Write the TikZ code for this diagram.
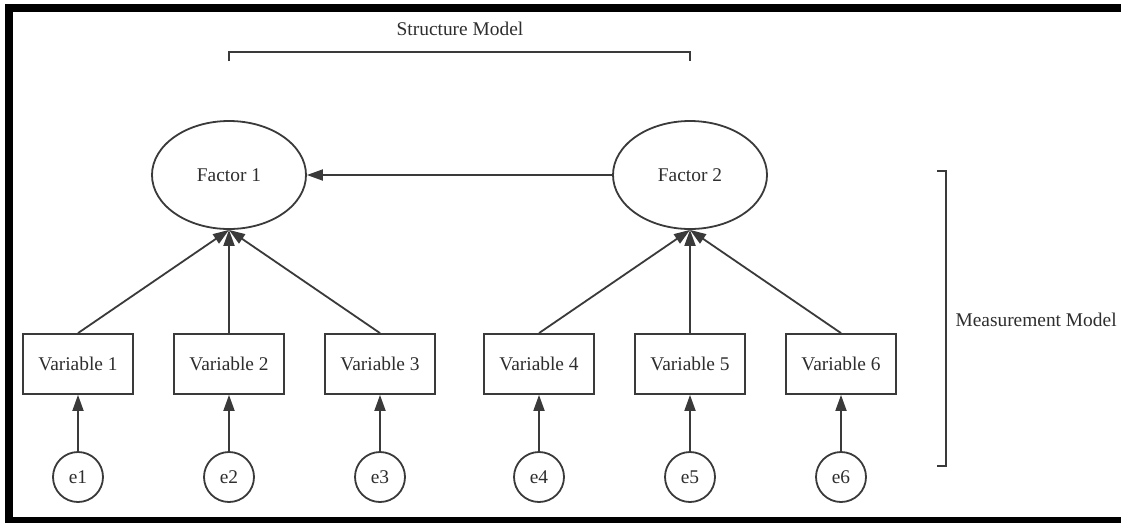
\documentclass[tikz,border=0pt]{standalone}
\usepackage{fontspec}
\setmainfont{Liberation Serif}
\usetikzlibrary{arrows.meta,shapes.geometric}
\definecolor{ln}{HTML}{3A3A3A}
\definecolor{tx}{HTML}{2E2E2E}
\begin{document}
\begin{tikzpicture}[x=1pt,y=-1pt,
  every node/.style={font=\fontsize{19.4}{23}\selectfont, text=tx},
  factor/.style={draw=ln, line width=1.8pt, ellipse, minimum width=154pt, minimum height=108pt, inner sep=0pt},
  varbox/.style={draw=ln, line width=1.8pt, rectangle, minimum width=110pt, minimum height=60pt, inner sep=0pt},
  errc/.style={draw=ln, line width=1.8pt, circle, minimum size=50pt, inner sep=0pt},
  conn/.style={draw=ln, line width=1.8pt, -{Triangle[length=16pt,width=11pt]}},
  brk/.style={draw=ln, line width=1.8pt}
]
\useasboundingbox (0,0) rectangle (1121,523);
\fill[white] (0,0) rectangle (1121,523);
% border
\fill[black] (5,4) rectangle (13,523);
\fill[black] (5,4) rectangle (1121,12);
\fill[black] (5,517) rectangle (1121,523);

\node[factor] (f1) at (229,175) {Factor 1};
\node[factor] (f2) at (690,175) {Factor 2};

\node[varbox] (v1) at (78,364) {Variable 1};
\node[varbox] (v2) at (229,364) {Variable 2};
\node[varbox] (v3) at (380,364) {Variable 3};
\node[varbox] (v4) at (539,364) {Variable 4};
\node[varbox] (v5) at (690,364) {Variable 5};
\node[varbox] (v6) at (841,364) {Variable 6};

\node[errc] (e1) at (78,477) {e1};
\node[errc] (e2) at (229,477) {e2};
\node[errc] (e3) at (380,477) {e3};
\node[errc] (e4) at (539,477) {e4};
\node[errc] (e5) at (690,477) {e5};
\node[errc] (e6) at (841,477) {e6};

\foreach \i in {1,...,6} \draw[conn] (e\i.north) -- (v\i.south);
\foreach \i in {1,2,3} \draw[conn] (v\i.north) -- (f1.south);
\foreach \i in {4,5,6} \draw[conn] (v\i.north) -- (f2.south);
\draw[conn] (f2.west) -- (f1.east);

% structure bracket
\node (st) at (460,29) {Structure Model};
\coordinate (sa) at (229,61);
\coordinate (sb) at (690,61);
\draw[brk] (sa) -- ++(0,-9) -| (sb);

% measurement bracket
\node[anchor=west] (mm) at (952,320) {Measurement Model};
\coordinate (ma) at (937,171);
\coordinate (mb) at (937,466);
\draw[brk] (ma) -- ++(9,0) |- (mb);
\end{tikzpicture}
\end{document}
